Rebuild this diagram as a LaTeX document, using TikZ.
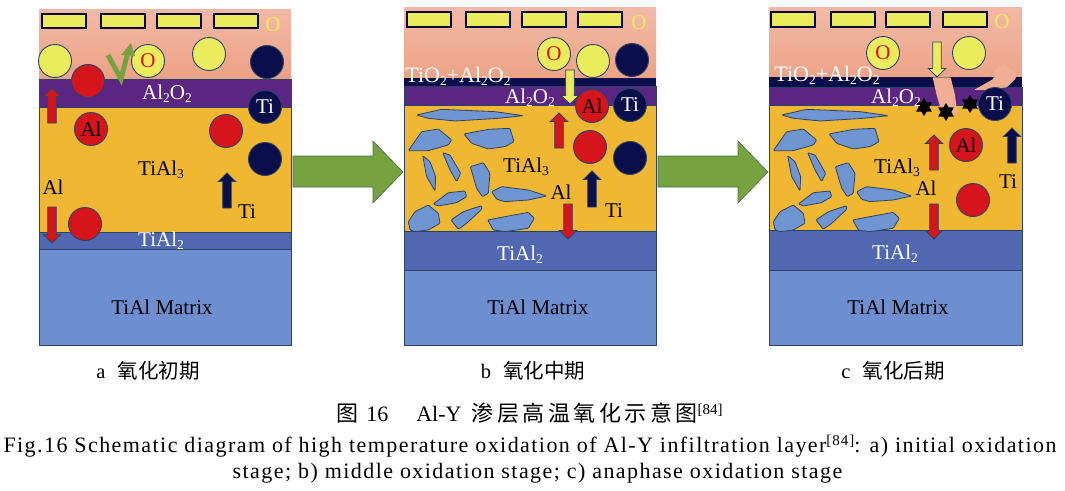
\documentclass[tikz,border=0pt]{standalone}
\usepackage{fontspec}
\setmainfont{Liberation Serif}
\newfontfamily\cjk{Noto Sans CJK SC}
\newfontfamily\cjkw[LetterSpace=16]{Noto Sans CJK SC}
\newfontfamily\capfont[LetterSpace=6.5]{Liberation Serif}
\usetikzlibrary{shapes.geometric}
\definecolor{pinkT}{HTML}{F3B9A6}
\definecolor{pinkB}{HTML}{EBA183}
\definecolor{orangeL}{HTML}{F0B733}
\definecolor{purpleL}{HTML}{5B2582}
\definecolor{blueL}{HTML}{5068B0}
\definecolor{matrixL}{HTML}{6E8FCF}
\definecolor{yellowP}{HTML}{EBEB5E}
\definecolor{redP}{HTML}{D6141B}
\definecolor{navyP}{HTML}{0A0E4A}
\definecolor{greenA}{HTML}{76A33F}
\definecolor{blobC}{HTML}{6F96D0}
\definecolor{edgeC}{HTML}{2A4468}
\definecolor{crackC}{HTML}{F0AE95}
\tikzset{
 x=1pt,y=-1pt,
 layer/.style={draw=edgeC,line width=.8pt},
 ball/.style={circle,draw=edgeC,line width=.9pt,minimum size=33pt,inner sep=0pt,font=\fontsize{21}{21}\selectfont},
 lab/.style={inner sep=0pt,font=\fontsize{21}{21}\selectfont},
 slab/.style={lab,text=white},
 wlab/.style={inner sep=0pt,text=white,font=\fontsize{22}{22}\selectfont},
 oxlab/.style={inner sep=0pt,font=\fontsize{21}{21}\selectfont,text=yellowP},
 plate/.style={draw=navyP!70!black,line width=1.1pt,fill=yellowP},
 blob/.style={draw=edgeC,line width=.8pt,fill=blobC,rounded corners=1pt},
 capt/.style={inner sep=0pt,font=\fontsize{20.5}{21}\selectfont},
 bigcap/.style={inner sep=0pt,font=\fontsize{22}{22}\selectfont\capfont},
 starm/.style={star,star points=6,star point ratio=1.7,fill=black,draw=none,minimum size=18pt,inner sep=0pt},
}
\newcommand{\lsub}[1]{\raisebox{-3pt}{\fontsize{13.5}{14}\selectfont #1}}
\newcommand{\panellayers}[9]{%
 \shade[top color=pinkT,bottom color=pinkB] (#1,#3) rectangle (#2,#5);
 \ifdim #4pt<#5pt \fill[navyP] (#1,#4) rectangle (#2,#5);\fi
 \draw[layer,fill=purpleL] (#1,#5) rectangle (#2,#6);
 \draw[layer,fill=orangeL] (#1,#6) rectangle (#2,#7);
 \draw[layer,fill=blueL] (#1,#7) rectangle (#2,#8);
 \draw[layer,fill=matrixL] (#1,#8) rectangle (#2,#9);
}
\newcommand{\plates}[6]{%
 \draw[plate] (#3,#1) rectangle +(44,#2-#1);
 \draw[plate] (#4,#1) rectangle +(44,#2-#1);
 \draw[plate] (#5,#1) rectangle +(44,#2-#1);
 \draw[plate] (#6,#1) rectangle +(44,#2-#1);
}
\newcommand{\vertarrow}[4]{%
 \pgfmathsetmacro{\hb}{#4+(#3>#4?8.5:-8.5)}
 \draw[draw=edgeC,line width=.8pt,fill=#1,line join=miter]
  ({#2-4.3},#3) -- ({#2-4.3},\hb) -- ({#2-8.7},\hb) -- (#2,#4) -- ({#2+8.7},\hb) -- ({#2+4.3},\hb) -- ({#2+4.3},#3) -- cycle;
}
\newcommand{\bigarrow}[1]{%
 \draw[edgeC!60!greenA,line width=.6pt,fill=greenA] (#1,156) -- ({#1+80},156) -- ({#1+80},141) -- ({#1+110},172) -- ({#1+80},203) -- ({#1+80},187) -- (#1,187) -- cycle;
}
\newcommand{\blobs}{%
 \draw[blob] (65,345)--(140,328)--(300,335)--(385,347)--(310,355)--(180,363)--(100,355)--cycle;
 \draw[blob] (40,452)--(80,395)--(130,387)--(170,420)--(160,435)--(100,452)--cycle;
 \draw[blob] (207,402)--(280,388)--(345,385)--(357,425)--(330,440)--(280,447)--(230,430)--cycle;
 \draw[blob] (83,467)--(105,485)--(122,530)--(120,573)--(95,530)--cycle;
 \draw[blob] (143,458)--(165,465)--(197,520)--(185,545)--(165,510)--cycle;
 \draw[blob] (226,500)--(265,488)--(285,520)--(280,580)--(262,590)--(245,565)--cycle;
 \draw[blob] (115,612)--(160,578)--(210,573)--(215,590)--(185,608)--(130,618)--cycle;
 \draw[blob] (290,575)--(320,560)--(400,570)--(455,588)--(400,600)--(330,605)--(305,598)--cycle;
 \draw[blob] (40,665)--(60,635)--(100,615)--(130,640)--(135,670)--(100,690)--(60,695)--(45,690)--cycle;
 \draw[blob] (168,660)--(205,635)--(260,617)--(260,628)--(215,670)--(190,688)--cycle;
 \draw[blob] (278,660)--(330,650)--(400,637)--(418,655)--(400,685)--(330,695)--(295,690)--cycle;
}
\begin{document}
\begin{tikzpicture}
\useasboundingbox (0,0) rectangle (1065,490);
\fill[white] (0,0) rectangle (1065,490);
% panel a
\panellayers{39}{291}{9}{79}{79}{107}{232}{249}{345}
\plates{14}{28}{42}{101}{157}{214}
\node[oxlab] (aO) at (273,25) {O};
\node[ball,fill=yellowP] (ay1) at (55,61) {};
\node[ball,fill=redP] (ar1) at (88,81) {};
\node[ball,fill=yellowP,text=redP] (aOb) at (148,61) {O};
\node[ball,fill=yellowP] (ay2) at (209,54) {};
\node[ball,fill=navyP] (an1) at (267,62) {};
\node[ball,fill=navyP,text=white] (aTi) at (265,107) {Ti};
\node[ball,fill=redP] (aAl) at (91,129) {Al};
\node[ball,fill=redP] (ar2) at (226,131) {};
\node[ball,fill=navyP] (an2) at (265,159) {};
\node[ball,fill=redP] (ar3) at (85,224) {};
\vertarrow{redP}{52}{123}{88}
\vertarrow{redP}{52}{207}{243}
\vertarrow{navyP}{227}{208}{173}
\draw[greenA,line width=5pt,line join=miter] (108,55) -- (121,79) -- (128,52);
\fill[greenA] (121,55) -- (131,43) -- (135,56) -- cycle;
\node[slab] (aAO) at (167,94) {Al\lsub{2}O\lsub{2}};
\node[lab] (aTA3) at (161,170) {TiAl\lsub{3}};
\node[lab] (aAlT) at (53,187) {Al};
\node[lab] (aTiT) at (247,212) {Ti};
\node[slab] (aTA2) at (161,241) {TiAl\lsub{2}};
\node[lab] (aM) at (162,307) {TiAl Matrix};
\node[capt] (acap) at (148,371) {a\hspace{12pt}{\cjk 氧化初期}};
\bigarrow{293}
% panel b
\panellayers{404}{656}{7}{78}{86}{105}{231}{270}{345}
\plates{12}{27}{407}{466}{522}{578}
\node[oxlab] (bO) at (639,23) {O};
\begin{scope}[shift={(395,0)},x=0.3333pt,y=-0.3333pt]\blobs\end{scope}
\node[ball,fill=yellowP,text=redP] (bOb) at (554,54) {O};
\node[ball,fill=yellowP] (by1) at (593,61) {};
\node[ball,fill=navyP] (bn1) at (632,60) {};
\node[ball,fill=redP] (bAl) at (592,106) {Al};
\node[ball,fill=navyP,text=white] (bTi) at (630,105) {Ti};
\node[ball,fill=redP] (br1) at (590,147) {};
\node[ball,fill=navyP] (bn2) at (630,158) {};
\vertarrow{yellowP}{570}{70}{104}
\vertarrow{redP}{559}{148}{113}
\vertarrow{navyP}{592}{207}{171}
\vertarrow{redP}{568}{204}{239}
\node[wlab] (bTO) at (458,76) {TiO\lsub{2}+Al\lsub{2}O\lsub{2}};
\node[slab] (bAO) at (530,98) {Al\lsub{2}O\lsub{2}};
\node[lab] (bTA3) at (526,167) {TiAl\lsub{3}};
\node[lab] (bAlT) at (561,192) {Al};
\node[lab] (bTiT) at (614,211) {Ti};
\node[slab] (bTA2) at (520,255) {TiAl\lsub{2}};
\node[lab] (bM) at (538,307) {TiAl Matrix};
\node[capt] (bcap) at (533,371) {b\hspace{12pt}{\cjk 氧化中期}};
\bigarrow{658}
% panel c
\panellayers{769}{1022}{7}{77}{87}{105}{230}{270}{345}
\plates{12}{27}{771}{831}{886}{943}
\node[oxlab] (cO) at (1002,22) {O};
\begin{scope}[shift={(760,0)},x=0.3333pt,y=-0.3333pt]\blobs
 \fill[crackC,rounded corners=1pt] (518,232)--(572,232)--(585,285)--(592,345)--(570,342)--(540,320)--(530,285)--cycle;
 \fill[crackC,rounded corners=1pt] (642,270)--(700,237)--(705,208)--(735,190)--(745,205)--(765,215)--(768,235)--(740,262)--(680,270)--cycle;
\end{scope}
\node[ball,fill=yellowP,text=redP] (cOb) at (883,53) {O};
\node[ball,fill=yellowP] (cy1) at (969,53) {};
\node[ball,fill=navyP,text=white] (cTi) at (995,104) {Ti};
\node[ball,fill=redP] (cAl) at (966,145) {Al};
\node[ball,fill=redP] (cr1) at (973,200) {};
\node[starm] (cs1) at (924,107) {};
\node[starm] (cs2) at (946,112) {};
\node[starm] (cs3) at (970,104) {};
\vertarrow{yellowP}{937}{42}{77}
\vertarrow{redP}{934}{170}{135}
\vertarrow{redP}{934}{204}{239}
\vertarrow{navyP}{1012}{163}{128}
\node[wlab] (cTO) at (827,75) {TiO\lsub{2}+Al\lsub{2}O\lsub{2}};
\node[slab] (cAO) at (896,98) {Al\lsub{2}O\lsub{2}};
\node[lab] (cTA3) at (897,168) {TiAl\lsub{3}};
\node[lab] (cAlT) at (926,188) {Al};
\node[lab] (cTiT) at (1008,182) {Ti};
\node[slab] (cTA2) at (895,254) {TiAl\lsub{2}};
\node[lab] (cM) at (898,307) {TiAl Matrix};
\node[capt] (ccap) at (893,371) {c\hspace{12pt}{\cjk 氧化后期}};
% captions
\node[inner sep=0pt,font=\fontsize{22}{22}\selectfont] (t1) at (529.5,413) {{\cjkw 图}\hspace{8pt}16\hspace{28pt}Al-Y\hspace{10pt}{\cjkw 渗层高温氧化示意图}\raisebox{7pt}{\fontsize{15}{15}\selectfont [84]}};
\node[bigcap] (t2) at (530,446) {Fig.16 Schematic diagram of high temperature oxidation of Al-Y infiltration layer\raisebox{7pt}{\fontsize{15}{15}\selectfont\capfont [84]}: a) initial oxidation};
\node[bigcap] (t3) at (537.5,473) {stage; b) middle oxidation stage; c) anaphase oxidation stage};
\end{tikzpicture}
\end{document}
